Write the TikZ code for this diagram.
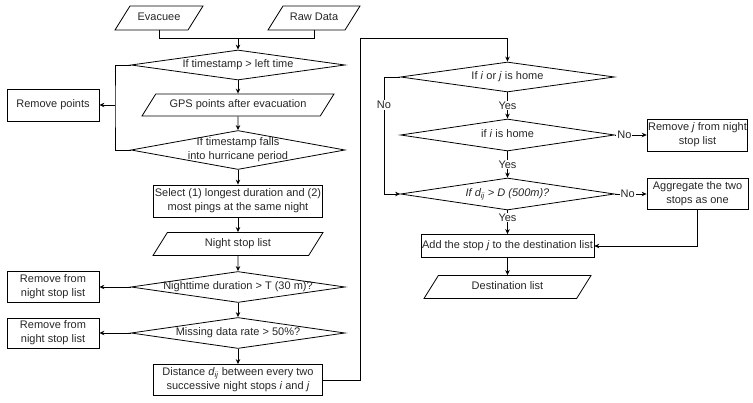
\documentclass[tikz,border=0pt]{standalone}
\usepackage{fontspec}
\setmainfont{Liberation Sans}
\usetikzlibrary{shapes.geometric,arrows.meta,positioning}

\newcommand{\dtxt}[1]{\makebox[0pt]{\begin{tabular}{@{}c@{}}#1\end{tabular}}}

\begin{document}
\begin{tikzpicture}[x=1pt, y=1pt, on grid, font={\fontsize{11}{14}\selectfont}, text=black!85, line width=0.8pt,
  >={Stealth[length=5pt,width=4.5pt]},
  box/.style={rectangle, draw, inner sep=1pt, align=center, minimum width=169pt, minimum height=31pt},
  dec/.style={diamond, draw, inner sep=0pt, minimum width=214pt, minimum height=31pt},
  io/.style={trapezium, trapezium left angle=58, trapezium right angle=122, trapezium stretches body, draw,
    inner xsep=0pt, inner ysep=6.25pt, text height=8pt, text depth=2.5pt},
  lbl/.style={fill=white, inner sep=1pt}]
\useasboundingbox (0,0) rectangle (753,402);

\node (ev) [io, minimum width=88pt, inner ysep=6.75pt] at (159,384) {Evacuee};

\node (raw) [io, minimum width=92pt, inner ysep=6.75pt, right=155pt of ev] {Raw Data};

\node (d1) [dec, minimum height=30pt] at (238,337) {\dtxt{If timestamp > left time}};

\node (gps) [io, minimum width=192pt, inner ysep=5.75pt, below=40pt of d1] {GPS points after evacuation};

\node (d2) [dec, minimum height=39pt, below=45pt of gps] {\dtxt{If timestamp falls\\into hurricane period}};

\node (sel) [box, minimum height=32pt, below=51pt of d2] {Select (1) longest duration and (2)\\most pings at the same night};

\node (night) [io, minimum width=170pt, below=43pt of sel] {Night stop list};

\node (d3) [dec, below=43pt of night] {\dtxt{Nighttime duration > T (30 m)?}};

\node (d4) [dec, below=46pt of d3] {\dtxt{Missing data rate > 50\%?}};

\node (dist) [box, below=47pt of d4] {Distance \textit{d}\textsubscript{\textit{ij}} between every two\\successive night stops \textit{i} and \textit{j}};

\node (rmpts) [box, minimum width=92pt, minimum height=32pt, left=185pt of gps] {Remove points};

\node (rm1) [box, minimum width=92pt, left=185pt of d3] {Remove from\\night stop list};

\node (rm2) [box, minimum width=92pt, minimum height=30pt, left=185pt of d4] {Remove from\\night stop list};

\node (r1) [dec, minimum height=30pt] at (507.5,325) {\dtxt{If \textit{i} or \textit{j} is home}};

\node (r2) [dec, minimum height=32pt, below=58pt of r1] {\dtxt{if \textit{i} is home}};

\node (r3) [dec, minimum height=32pt, below=59pt of r2] {\dtxt{\textit{If d\textsubscript{ij} > D (500m)?}}};

\node (add) [box, minimum height=23pt, below=52pt of r3] {Add the stop \textit{j} to the destination list};

\node (dest) [io, minimum width=167pt, below=41pt of add] {Destination list};

\node (rmj) [box, minimum width=100pt, minimum height=32pt, right=190pt of r2] {Remove \textit{j} from night\\stop list};

\node (agg) [box, minimum width=101pt, right=190pt of r3] {Aggregate the two\\stops as one};

\coordinate (merge) at (238,364);
\coordinate (jl) at (115,297);
\coordinate (turn) at (360,364);
\coordinate (nob) at (384,208);

\draw (ev.south) |- (merge);
\draw (raw.south) |- (merge);
\draw[->] (merge) -- (d1);
\draw[->] (d1) -- (gps);
\draw[->] (gps) -- (d2);
\draw[->] (d2) -- (sel);
\draw[->] (sel) -- (night);
\draw[->] (night) -- (d3);
\draw[->] (d3) -- (d4);
\draw[->] (d4) -- (dist);

\draw (d1.west) -| (jl) |- (d2.west);
\draw[->] (jl) -- (rmpts);
\draw[->] (d3) -- (rm1);
\draw[->] (d4) -- (rm2);

\draw[->] (dist.east) -| (turn) -| (r1.north);

\draw[->] (r1) -- node[lbl] {Yes} (r2);
\draw[->] (r2) -- node[lbl] {Yes} (r3);
\draw[->] (r3) -- node[lbl, pos=0.3] {Yes} (add);
\draw[->] (add) -- (dest);

\draw[->] (r1.west) -| node[lbl, pos=0.62] {No} (nob) -- (r3.west);
\draw[->] (r2) -- node[lbl, pos=0.3] {No} (rmj);
\draw[->] (r3) -- node[lbl, pos=0.4] {No} (agg);
\draw[->] (agg.south) |- (add.east);

\end{tikzpicture}
\end{document}
